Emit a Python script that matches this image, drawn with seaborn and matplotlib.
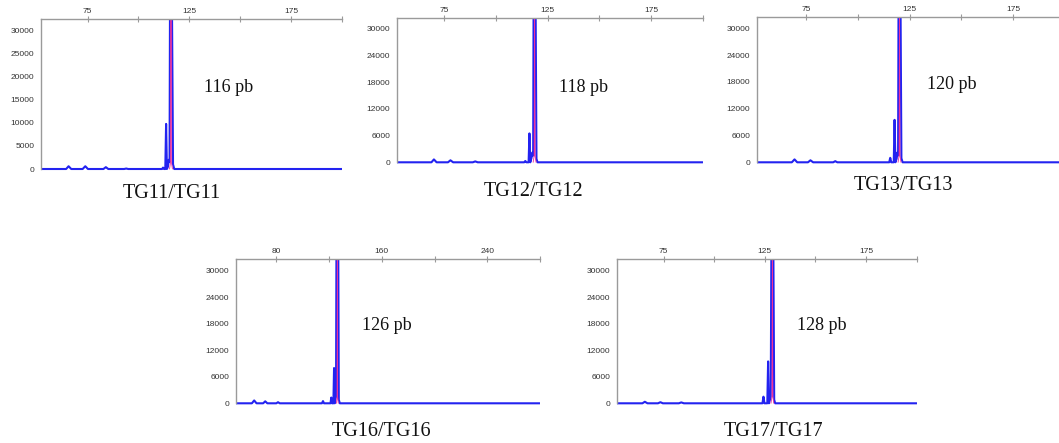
import matplotlib
matplotlib.use("Agg")
import matplotlib.pyplot as plt
import seaborn as sns
import pandas as pd

sns.set_style("white")
plt.rcParams['font.family'] = ['Liberation Sans', 'DejaVu Sans']

W, H = 1059, 443

# ---------------- data ----------------
genotypes = ["TG11/TG11", "TG12/TG12", "TG13/TG13", "TG16/TG16", "TG17/TG17"]
sizes = ["116 pb", "118 pb", "120 pb", "126 pb", "128 pb"]

blue_x_tg11 = [52, 64.5, 65.7, 67, 72.6, 73.9, 75.2, 82.8, 84, 85.2, 93, 94, 95, 111.6, 112.1, 112.6,
               113.2, 113.6, 114.0, 114.5, 114.9, 115.3, 115.5, 116.5, 117.0, 117.6, 200]
blue_y_tg11 = [0, 0, 600, 0, 0, 600, 0, 0, 400, 0, 0, 100, 0, 0, 300, 0,
               0, 9800, 0, 500, 2000, 1500, 34000, 34000, 1000, 0, 0]
pink_x_tg11 = [115.3, 115.8, 116.0, 116.2, 116.7]
pink_y_tg11 = [0, 1500, 34000, 1500, 0]

blue_x_tg12 = [52, 68.8, 70, 71.3, 76.8, 78, 79.3, 88.8, 90, 91.2, 113.7, 114.2, 114.7, 115.8, 116.2, 116.6,
               117.2, 117.6, 118.0, 118.2, 119.2, 119.6, 120.1, 200]
blue_y_tg12 = [0, 0, 650, 0, 0, 450, 0, 0, 200, 0, 0, 300, 0, 0, 6500, 0,
               1000, 2200, 1500, 34000, 34000, 800, 0, 0]
pink_x_tg12 = [118.0, 118.5, 118.7, 118.9, 119.4]
pink_y_tg12 = [0, 1500, 34000, 1500, 0]

blue_x_tg13 = [51, 68, 69.3, 70.6, 75.8, 77, 78.3, 88, 89, 90, 115.1, 115.6, 116.1, 117.3, 117.7, 118.1,
               118.7, 119.1, 119.4, 119.6, 120.6, 121.0, 121.6, 200]
blue_y_tg13 = [0, 0, 650, 0, 0, 450, 0, 0, 250, 0, 0, 1000, 0, 0, 9500, 0,
               800, 2200, 1500, 34000, 34000, 900, 0, 0]
pink_x_tg13 = [119.4, 119.9, 120.1, 120.3, 120.8]
pink_y_tg13 = [0, 1500, 34000, 1500, 0]

blue_x_tg16 = [49, 61.5, 63.2, 65, 70, 71.6, 73.2, 80, 81.3, 82.6, 114.6, 115.4, 116.2, 121.1, 121.7, 122.3,
               123.3, 123.8, 124.3, 124.8, 125.3, 125.6, 127.0, 127.4, 128.2, 280]
blue_y_tg16 = [0, 0, 650, 0, 0, 450, 0, 0, 250, 0, 0, 500, 0, 0, 1300, 0,
               0, 8000, 0, 1000, 1500, 34000, 34000, 800, 0, 0]
pink_x_tg16 = [125.6, 126.1, 126.3, 126.5, 127.0]
pink_y_tg16 = [0, 1500, 34000, 1500, 0]

blue_x_tg17 = [51.8, 64.5, 65.7, 67, 72.2, 73.4, 74.6, 82.5, 83.7, 85, 123.8, 124.3, 124.8, 126.2, 126.6, 127.0,
               127.5, 127.9, 128.2, 129.2, 129.6, 130.1, 200]
blue_y_tg17 = [0, 0, 350, 0, 0, 250, 0, 0, 200, 0, 0, 1500, 0, 0, 9500, 0,
               800, 1500, 34000, 34000, 800, 0, 0]
pink_x_tg17 = [128.0, 128.5, 128.7, 128.9, 129.4]
pink_y_tg17 = [0, 1500, 34000, 1500, 0]

blue_x = [blue_x_tg11, blue_x_tg12, blue_x_tg13, blue_x_tg16, blue_x_tg17]
blue_y = [blue_y_tg11, blue_y_tg12, blue_y_tg13, blue_y_tg16, blue_y_tg17]
pink_x = [pink_x_tg11, pink_x_tg12, pink_x_tg13, pink_x_tg16, pink_x_tg17]
pink_y = [pink_y_tg11, pink_y_tg12, pink_y_tg13, pink_y_tg16, pink_y_tg17]

xticks_labeled = [[75, 125, 175], [75, 125, 175], [75, 125, 175], [80, 160, 240], [75, 125, 175]]
xticks_plain = [[100, 150, 200], [100, 150, 200], [100, 150, 200], [120, 200, 280], [100, 150, 200]]
y_step = [5000, 6000, 6000, 6000, 6000]

# ---------------- layout (pixels) ----------------
# left, right, top, zero-line, xmin, xmax, ymax
panels = [
    (40.7, 342.0, 19.0, 169.0, 52.0, 200.0, 32600),
    (396.7, 702.7, 18.3, 162.3, 52.0, 200.0, 32400),
    (756.7, 1064.7, 17.3, 162.3, 51.0, 200.0, 32460),
    (235.7, 540.0, 259.0, 403.3, 49.2, 280.0, 32720),
    (616.7, 916.7, 259.0, 403.3, 51.8, 199.0, 32720),
]
size_pos = [(204, 87), (559, 88), (926.7, 84), (361.7, 325), (796.7, 325)]
geno_pos = [(172, 194), (534, 192), (903, 185), (381, 432), (774, 432)]

BLUE = "#2323f0"
PINK = "#f0309a"
GRAY = "#9a9a9a"

fig = plt.figure(figsize=(W / 100, H / 100), dpi=100)

for i in range(5):
    left, right, top, zero, xmin, xmax, ymax = panels[i]
    pad = 1.5
    rect = [left / W, 1 - (zero + pad) / H, (right - left) / W, (zero + pad - top) / H]
    ax = fig.add_axes(rect)
    ylo = -pad * ymax / (zero - top)

    dfb = pd.DataFrame({"x": blue_x[i], "y": blue_y[i]})
    dfp = pd.DataFrame({"x": pink_x[i], "y": pink_y[i]})
    sns.lineplot(data=dfb, x="x", y="y", ax=ax, sort=False, estimator=None,
                 color=BLUE, linewidth=1.5)
    sns.lineplot(data=dfp, x="x", y="y", ax=ax, sort=False, estimator=None,
                 color=PINK, linewidth=0.6)

    ax.set_xlim(xmin, xmax)
    ax.set_ylim(ylo, ymax)
    ax.set_xlabel("")
    ax.set_ylabel("")
    ax.patch.set_alpha(0)

    for s in ["right", "bottom"]:
        ax.spines[s].set_visible(False)
    for s in ["top", "left"]:
        ax.spines[s].set_color(GRAY)
        ax.spines[s].set_linewidth(1.0)
    ax.spines["left"].set_bounds(0, ymax)

    # top x axis
    ax.xaxis.tick_top()
    ax.set_xticks(xticks_labeled[i] + xticks_plain[i])
    ax.set_xticklabels([str(v) for v in xticks_labeled[i]] + [""] * len(xticks_plain[i]))
    ax.tick_params(axis="x", which="major", direction="inout", length=4, width=0.8,
                   color=GRAY, labelsize=6, labelcolor="#333333", pad=1)

    # left y axis
    step = y_step[i]
    yt = [k * step for k in range(0, int(31000 // step) + 1)]
    ax.set_yticks(yt)
    ax.set_yticklabels([str(v) for v in yt])
    ax.set_yticks([v + step / 2 for v in yt if v + step / 2 < ymax], minor=True)
    ax.tick_params(axis="y", which="major", direction="out", length=3, width=0.8,
                   color=GRAY, labelsize=6, labelcolor="#333333", pad=1.5)
    ax.tick_params(axis="y", which="minor", direction="out", length=2, width=0.6, color=GRAY)

    sx, sy = size_pos[i]
    fig.text(sx / W, 1 - sy / H, sizes[i], family=["Liberation Serif", "DejaVu Serif"],
             fontsize=13, ha="left", va="center", color="#111111")
    gx, gy = geno_pos[i]
    fig.text(gx / W, 1 - gy / H, genotypes[i], family=["Liberation Serif", "DejaVu Serif"],
             fontsize=14.5, ha="center", va="center", color="#111111")

fig.savefig("out.png", dpi=100, facecolor="white")
